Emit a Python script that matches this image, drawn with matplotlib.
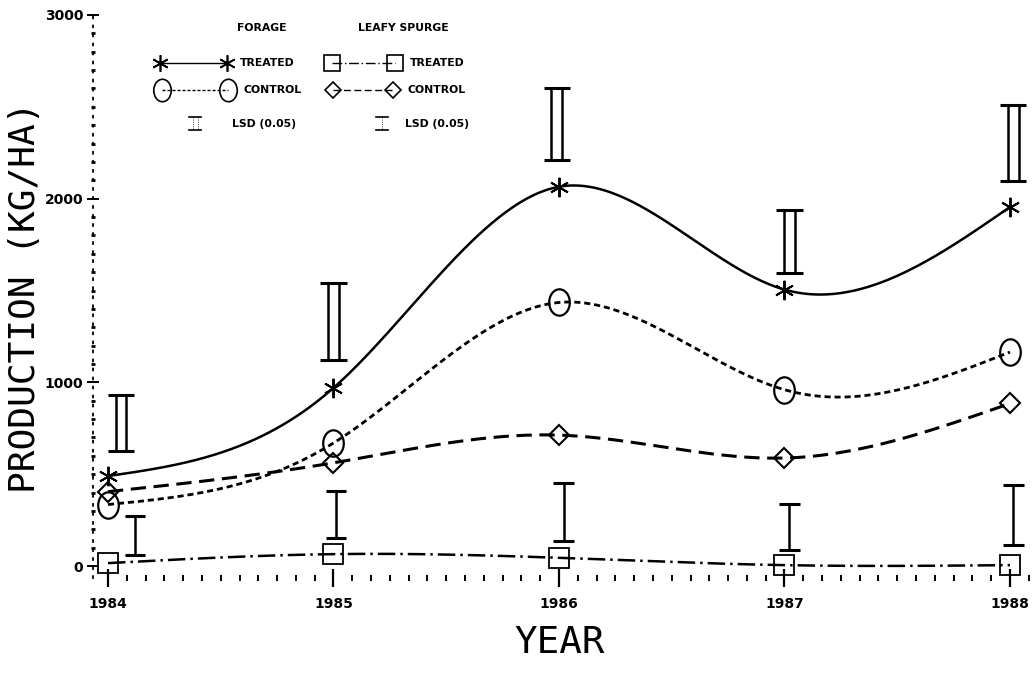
import numpy as np
import matplotlib.pyplot as plt
from matplotlib.lines import Line2D
from matplotlib.path import Path
from matplotlib.transforms import Affine2D
from matplotlib.ticker import MultipleLocator

# data
years = np.array([1984, 1985, 1986, 1987, 1988])
forage_treated = np.array([490, 970, 2065, 1505, 1955])
forage_control = np.array([335, 670, 1435, 960, 1165])
spurge_treated = np.array([16, 65, 45, 5, 5])
spurge_control = np.array([405, 562, 713, 588, 885])

# LSD (0.05) bars, low / high ends
forage_lsd_low = [626, 1121, 2210, 1595, 2096]
forage_lsd_high = [931, 1540, 2602, 1938, 2509]
spurge_lsd_low = [60, 152, 136, 87, 114]
spurge_lsd_high = [272, 408, 452, 338, 441]

# where the LSD bars sit, shifted a bit from the year (in years)
forage_lsd_shift = [0.058, 0.0, -0.01, 0.022, 0.015]
spurge_lsd_shift = [0.12, 0.01, 0.02, 0.022, 0.015]

W, H = 1033, 675


def fx(px):
    return px / W


def fy(py):
    return 1 - py / H


# smooth curve through the points (natural cubic spline)
def spline(x, y, xs):
    x = np.asarray(x, float)
    y = np.asarray(y, float)
    n = len(x)
    h = np.diff(x)
    A = np.zeros((n, n))
    r = np.zeros(n)
    A[0, 0] = A[-1, -1] = 1
    for i in range(1, n - 1):
        A[i, i - 1] = h[i - 1]
        A[i, i] = 2 * (h[i - 1] + h[i])
        A[i, i + 1] = h[i]
        r[i] = 3 * ((y[i + 1] - y[i]) / h[i] - (y[i] - y[i - 1]) / h[i - 1])
    c = np.linalg.solve(A, r)
    b = (y[1:] - y[:-1]) / h - h * (2 * c[:-1] + c[1:]) / 3
    d = (c[1:] - c[:-1]) / (3 * h)
    idx = np.clip(np.searchsorted(x, xs) - 1, 0, n - 2)
    dx = xs - x[idx]
    return y[idx] + b[idx] * dx + c[idx] * dx ** 2 + d[idx] * dx ** 3


fig = plt.figure(figsize=(10.33, 6.75), dpi=100)
ax = fig.add_axes([fx(93), fy(578), fx(1030) - fx(93), fy(15) - fy(578)])
ax.set_xlim(1983.9335, 1988.0887)
ax.set_ylim(-65, 3000)

ellipse = Path.unit_circle().transformed(Affine2D().scale(0.78, 1.0))
star = (6, 2, 0)

styles = {
    'ft': dict(ls='-', lw=1.8, marker=star, ms=14, mew=1.4),
    'fc': dict(ls=(0, (2.2, 1.4)), lw=2.0, marker=ellipse, ms=19, mew=1.6),
    'sc': dict(ls=(0, (5, 2.5)), lw=2.2, marker='D', ms=10, mew=1.5),
    'st': dict(ls=(0, (7, 2, 1, 2)), lw=1.8, marker='s', ms=14, mew=1.3),
}
series = [('ft', forage_treated), ('fc', forage_control),
          ('sc', spurge_control), ('st', spurge_treated)]

xs = np.linspace(1984, 1988, 400)
for key, vals in series:
    st = styles[key]
    ax.plot(xs, spline(years, vals, xs), color='black', ls=st['ls'], lw=st['lw'])
    ax.plot(years, vals, ls='none', marker=st['marker'], ms=st['ms'],
            mew=st['mew'], mfc='none', mec='black', clip_on=False)

# forage LSD: double bar "II"
for i in range(len(years)):
    xc = years[i] + forage_lsd_shift[i]
    for off in (-0.024, 0.024):
        ax.vlines(xc + off, forage_lsd_low[i], forage_lsd_high[i], color='black', lw=1.8)
    ax.hlines([forage_lsd_low[i], forage_lsd_high[i]], xc - 0.058, xc + 0.058,
              color='black', lw=2.2)

# leafy spurge LSD: single bar "I"
for i in range(len(years)):
    xc = years[i] + spurge_lsd_shift[i]
    ax.vlines(xc, spurge_lsd_low[i], spurge_lsd_high[i], color='black', lw=1.8)
    ax.hlines([spurge_lsd_low[i], spurge_lsd_high[i]], xc - 0.045, xc + 0.045,
              color='black', lw=2.2)

# axes look
for s in ['top', 'right', 'bottom']:
    ax.spines[s].set_visible(False)
ax.spines['left'].set_linestyle((0, (1, 4)))
ax.spines['left'].set_linewidth(1.3)

ax.set_xticks(years)
ax.set_xticklabels([str(y) for y in years])
ax.xaxis.set_minor_locator(MultipleLocator(1 / 12))
ax.tick_params(axis='x', which='major', direction='inout', length=13, width=1.6,
               pad=7, labelsize=10)
ax.tick_params(axis='x', which='minor', direction='inout', length=5, width=1.4)
ax.set_yticks([0, 1000, 2000, 3000])
ax.yaxis.set_minor_locator(MultipleLocator(100))
ax.tick_params(axis='y', which='major', direction='inout', length=8, width=1.4,
               pad=3, labelsize=10)
ax.tick_params(axis='y', which='minor', direction='inout', length=3, width=2)
for lab in ax.get_xticklabels() + ax.get_yticklabels():
    lab.set_fontweight('bold')

fig.text(fx(25), fy(297), 'PRODUCTION (KG/HA)', rotation=90, ha='center', va='center',
         family='DejaVu Sans Mono', fontsize=26)
fig.text(fx(560), fy(643), 'YEAR', ha='center', va='center',
         family='DejaVu Sans Mono', fontsize=27)

# legend drawn by hand
lfont = dict(fontsize=7.8, fontweight='bold', va='center')
fig.text(fx(237), fy(28), 'FORAGE', **lfont)
fig.text(fx(358), fy(28), 'LEAFY SPURGE', **lfont)

legend_rows = [
    ('ft', 160, 227, 63, 'TREATED', 240),
    ('st', 332, 395, 63, 'TREATED', 410),
    ('fc', 162, 228, 90, 'CONTROL', 243),
    ('sc', 333, 393, 90, 'CONTROL', 408),
]
for key, x0, x1, yy, txt, tx in legend_rows:
    st = styles[key]
    fig.add_artist(Line2D([fx(x0), fx(x1)], [fy(yy), fy(yy)], color='black',
                          ls=st['ls'], lw=1.0, marker=st['marker'],
                          ms=st['ms'] * 0.85, mew=1.2, mfc='none', mec='black'))
    fig.text(fx(tx), fy(yy), txt, **lfont)

# small LSD symbols
for xc, double in [(195, True), (382, False)]:
    if double:
        for off in (-2.5, 2.5):
            fig.add_artist(Line2D([fx(xc + off)] * 2, [fy(117), fy(130)],
                                  color='black', lw=0.6, ls=':'))
    else:
        fig.add_artist(Line2D([fx(xc)] * 2, [fy(117), fy(130)], color='black',
                              lw=0.6, ls=':'))
    fig.add_artist(Line2D([fx(xc - 6), fx(xc + 6)], [fy(117)] * 2, color='black', lw=1.2))
    fig.add_artist(Line2D([fx(xc - 6), fx(xc + 6)], [fy(130)] * 2, color='black', lw=1.2))
fig.text(fx(232), fy(124), 'LSD (0.05)', **lfont)
fig.text(fx(405), fy(124), 'LSD (0.05)', **lfont)

plt.savefig('out.png', dpi=100)
